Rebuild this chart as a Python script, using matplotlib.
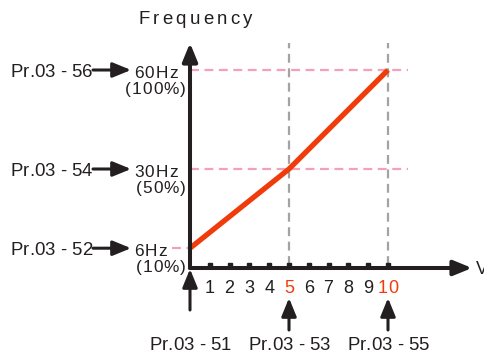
import matplotlib.pyplot as plt
from matplotlib.font_manager import FontProperties, findfont, get_font

plt.rcParams['font.family'] = ['Liberation Sans', 'DejaVu Sans']

# data
volts = [0, 5, 10]
freq = [6, 30, 60]
hz_labels = ['6Hz', '30Hz', '60Hz']
pct_labels = ['(10%)', '(50%)', '(100%)']
param_freq = ['Pr.03 - 52', 'Pr.03 - 54', 'Pr.03 - 56']
param_volt = ['Pr.03 - 51', 'Pr.03 - 53', 'Pr.03 - 55']
ticks = list(range(1, 11))
red_ticks = [5, 10]

INK = '#231f20'
RED = '#f03c0a'
PINK = '#f5a0bb'
GREY = '#a3a3a3'
DPI = 100

# pixel scale: 19.8 px per volt, 3.3 px per Hz, origin at (190, 268)
px_x = 1 / 19.8
px_y = 1 / 3.3

fig = plt.figure(figsize=(4.84, 3.58), dpi=DPI)
ax = fig.add_axes([0, 0, 1, 1])
ax.set_xlim(-190 * px_x, (484 - 190) * px_x)
ax.set_ylim(-(358 - 268) * px_y, 268 * px_y)
ax.axis('off')

font = get_font(findfont(FontProperties(family='Liberation Sans')))


def tracked(x, y, s, size, track=1.2, ha='left', color=INK):
    """Letter-spaced text, vertically centred on the cap height."""
    font.set_size(size, DPI)
    adv = []
    for ch in s:
        g = font.load_char(ord(ch))
        adv.append(g.linearHoriAdvance / 65536)
    total = sum(adv) + track * (len(s) - 1)
    pos = {'left': 0, 'center': -total / 2, 'right': -total}[ha]
    dy = -0.716 * size * DPI / 72 / 2
    for ch, a in zip(s, adv):
        if ch != ' ':
            ax.annotate(ch, (x, y), xytext=(pos, dy), textcoords='offset pixels',
                        fontsize=size, ha='left', va='baseline', color=color)
        pos += a + track


def arrow(x0, y0, x1, y1, lw=2.2):
    ax.annotate('', xy=(x1, y1), xytext=(x0, y0),
                arrowprops=dict(arrowstyle='-|>,head_length=1.1,head_width=0.45',
                                color=INK, lw=lw, shrinkA=0, shrinkB=0,
                                mutation_scale=10))


# guide lines
for v in volts[1:]:
    ax.plot([v, v], [3 * px_y, 225 * px_y], color=GREY, lw=1.6, ls=(0, (4, 2.5)))
for f in freq[1:]:
    ax.plot([0, 218 * px_x], [f, f], color=PINK, lw=1.6, ls=(0, (4, 2.5)))
ax.plot([-18 * px_x, 0], [freq[0], freq[0]], color=PINK, lw=1.6, ls=(0, (4, 2.5)))

# V/f curve
ax.plot(volts, freq, color=RED, lw=3.8, solid_capstyle='butt', zorder=3)

# axes with arrows
arrow(0, 0, 0, 225 * px_y, lw=2.9)
arrow(0, 0, 282 * px_x, 0, lw=2.9)
tracked(286 * px_x, 0, 'V', 13)
tracked(5 * px_x, 251 * px_y, 'Frequency', 13.4, track=3.2, ha='center')

# ticks
ax.plot(ticks, [3 * px_y] * len(ticks), ls='none', marker='s', ms=2.2, color=INK)
for t in ticks:
    tracked(t, -19 * px_y, str(t), 13, track=0.5, ha='center',
            color=RED if t in red_ticks else INK)

# frequency labels
for f, hz, pct, par in zip(freq, hz_labels, pct_labels, param_freq):
    tracked(-56 * px_x, f - 2 * px_y, hz, 12.4, track=1.1)
    tracked(-4 * px_x, f - 18 * px_y, pct, 12.4, track=1.1, ha='right')
    tracked(-98 * px_x, f, par, 13.4, track=0, ha='right')
    arrow(-97 * px_x, f, -59 * px_x, f)

# voltage parameter labels
for v, par in zip(volts, param_volt):
    top = -1 if v == 0 else -30
    arrow(v, -42 * px_y if v == 0 else -62 * px_y, v, top * px_y)
    tracked(v, -75 * px_y, par, 13.4, track=0, ha='center')

fig.savefig('out.png', dpi=DPI)
